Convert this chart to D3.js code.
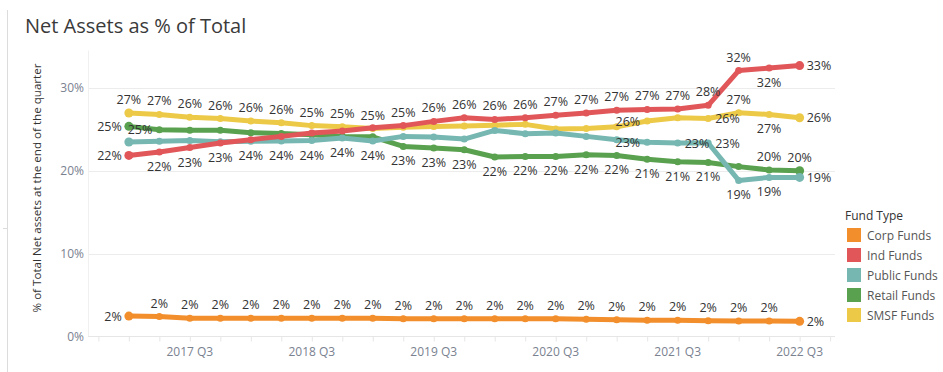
<!DOCTYPE html>
<html>
<head>
<meta charset="utf-8">
<script src="https://cdn.jsdelivr.net/npm/d3@7"></script>
<style>
  body { margin: 0; background: #fff; }
  text { font-family: "Open Sans", sans-serif; }
</style>
</head>
<body>
<div id="chart"></div>
<script>
// quarters on the x axis
var quarters = ["2017 Q1", "2017 Q2", "2017 Q3", "2017 Q4", "2018 Q1", "2018 Q2", "2018 Q3", "2018 Q4",
                "2019 Q1", "2019 Q2", "2019 Q3", "2019 Q4", "2020 Q1", "2020 Q2", "2020 Q3", "2020 Q4",
                "2021 Q1", "2021 Q2", "2021 Q3", "2021 Q4", "2022 Q1", "2022 Q2", "2022 Q3"];
var xTickLabels = ["2017 Q3", "2018 Q3", "2019 Q3", "2020 Q3", "2021 Q3", "2022 Q3"];
var yTicks = [0, 10, 20, 30];

var fundTypes = ["Corp Funds", "Ind Funds", "Public Funds", "Retail Funds", "SMSF Funds"];

// % of total net assets
var corp = [2.45, 2.4, 2.19, 2.19, 2.19, 2.19, 2.19, 2.19, 2.19, 2.14, 2.14, 2.14, 2.14, 2.14, 2.14, 2.06,
            2.02, 1.94, 1.94, 1.9, 1.86, 1.86, 1.82];
var ind = [21.85, 22.26, 22.8, 23.35, 23.75, 24.15, 24.56, 24.8, 25.2, 25.45, 25.96, 26.4, 26.2, 26.4, 26.7, 26.98,
           27.3, 27.4, 27.45, 27.9, 32.1, 32.4, 32.7];
var pub = [23.47, 23.55, 23.66, 23.5, 23.55, 23.6, 23.65, 23.95, 23.6, 24.15, 24.07, 23.83, 24.87, 24.47, 24.56, 24.15,
           23.75, 23.43, 23.35, 23.35, 18.83, 19.2, 19.2];
var retail = [25.36, 24.96, 24.9, 24.9, 24.6, 24.5, 24.35, 24.15, 24.1, 22.94, 22.75, 22.54, 21.66, 21.73, 21.73, 21.93,
              21.85, 21.4, 21.1, 21.0, 20.5, 20.1, 20.0];
var smsf = [26.98, 26.8, 26.45, 26.3, 26.0, 25.8, 25.45, 25.3, 25.1, 25.25, 25.35, 25.4, 25.5, 25.6, 25.05, 25.1,
            25.3, 26.0, 26.4, 26.3, 27.0, 26.8, 26.4];

// label placement per point: a above, b below, l left, r right, - none
var corpLabels   = "laaaaaaaaaaaaaaaaaaaaar";
var indLabels    = "lbbb-----aaaaaaaaaaaabr";
var pubLabels    = "----bbbbb--------lrrbbr";
var retailLabels = "ll-------bbbbbbbbbbb-aa";
var smsfLabels   = "aaaaaaaaa--------l-rabr";

var colors = ["#f28e2b", "#e15759", "#76b7b2", "#59a14f", "#edc948"];

var series = [
  {name: fundTypes[0], values: corp, labels: corpLabels, color: colors[0]},
  {name: fundTypes[1], values: ind, labels: indLabels, color: colors[1]},
  {name: fundTypes[2], values: pub, labels: pubLabels, color: colors[2]},
  {name: fundTypes[3], values: retail, labels: retailLabels, color: colors[3]},
  {name: fundTypes[4], values: smsf, labels: smsfLabels, color: colors[4]}
];
// drawing order (bottom to top)
var drawOrder = [4, 3, 2, 1, 0];

var width = 943;
var height = 372;

var svg = d3.select("#chart")
            .append("svg")
            .attr("width", width)
            .attr("height", height);

var x = d3.scaleLinear()
          .domain([-1.34, 23.16])
          .range([88, 835]);
var y = d3.scaleLinear()
          .domain([0, 34.58])
          .range([336.4, 50]);

// outer border line on the left
svg.append("line")
   .attr("x1", 7.5).attr("x2", 7.5)
   .attr("y1", 10).attr("y2", height)
   .attr("stroke", "#dcdcdc");
svg.append("line")
   .attr("x1", 3).attr("x2", 7)
   .attr("y1", 228.5).attr("y2", 228.5)
   .attr("stroke", "#dcdcdc");

// title
svg.append("text")
   .attr("x", 25)
   .attr("y", 33)
   .attr("font-size", 20)
   .attr("fill", "#3a3a3a")
   .text("Net Assets as % of Total");

// gridlines
svg.append("g")
   .selectAll("line")
   .data(yTicks.filter(function(d) { return d > 0; }))
   .enter()
   .append("line")
   .attr("x1", 88).attr("x2", 835)
   .attr("y1", function(d) { return Math.round(y(d)) + 0.5; })
   .attr("y2", function(d) { return Math.round(y(d)) + 0.5; })
   .attr("stroke", "#ececec");

// y axis
var yAxis = svg.append("g")
               .attr("transform", "translate(88,0)")
               .call(d3.axisLeft(y).tickValues(yTicks).tickSize(0).tickPadding(4)
                       .tickFormat(function(d) { return d + "%"; }));
yAxis.select(".domain").attr("stroke", "#f0f0f0");
yAxis.selectAll("text")
     .attr("font-family", "Open Sans, sans-serif")
     .attr("font-size", 12)
     .attr("fill", "#7a8290");

// y axis title
svg.append("text")
   .attr("transform", "translate(41," + 188 + ") rotate(-90)")
   .attr("text-anchor", "middle")
   .attr("font-size", 11.6)
   .attr("fill", "#333")
   .text("% of Total Net assets at the end of the quarter");

// x axis
var tickIdx = d3.range(-1, quarters.length + 1);
var xAxis = svg.append("g")
               .attr("transform", "translate(0,336.5)")
               .call(d3.axisBottom(x).tickValues(tickIdx).tickSize(5).tickFormat(""));
xAxis.select(".domain").attr("d", "M88,0H835").attr("stroke", "#e6e6e6");
xAxis.selectAll(".tick line").attr("stroke", "#e6e6e6");

svg.append("g")
   .selectAll("text")
   .data(xTickLabels)
   .enter()
   .append("text")
   .attr("x", function(d) { return x(quarters.indexOf(d)); })
   .attr("y", 356)
   .attr("text-anchor", "middle")
   .attr("font-size", 12)
   .attr("fill", "#7a8290")
   .text(function(d) { return d; });

// lines
var line = d3.line()
             .x(function(d, i) { return x(i); })
             .y(function(d) { return y(d); });

drawOrder.forEach(function(k) {
  var s = series[k];
  var g = svg.append("g");
  g.append("path")
   .attr("d", line(s.values))
   .attr("fill", "none")
   .attr("stroke", s.color)
   .attr("stroke-width", 5)
   .attr("stroke-linejoin", "round")
   .attr("stroke-linecap", "round");
  g.selectAll("circle")
   .data(s.values)
   .enter()
   .append("circle")
   .attr("cx", function(d, i) { return x(i); })
   .attr("cy", function(d) { return y(d); })
   .attr("r", function(d, i) { return (i === 0 || i === s.values.length - 1) ? 4.5 : 3.5; })
   .attr("fill", s.color);
});

// point labels
series.forEach(function(s) {
  s.values.forEach(function(v, i) {
    var pos = s.labels.charAt(i);
    if (pos === "-") return;
    var px = x(i), py = y(v);
    var t = svg.append("text")
               .attr("font-size", 12.5)
               .attr("fill", "#333")
               .text(Math.round(v) + "%");
    if (pos === "a") {
      t.attr("x", px).attr("y", py - 9).attr("text-anchor", "middle");
    } else if (pos === "b") {
      t.attr("x", px).attr("y", py + 19).attr("text-anchor", "middle");
    } else if (pos === "l") {
      t.attr("x", px - 7).attr("y", py + 4.5).attr("text-anchor", "end");
    } else if (pos === "r") {
      t.attr("x", px + 7).attr("y", py + 4.5).attr("text-anchor", "start");
    }
  });
});

// legend
var legend = svg.append("g").attr("transform", "translate(845,0)");
legend.append("text")
      .attr("x", 0)
      .attr("y", 220)
      .attr("font-size", 12)
      .attr("fill", "#333")
      .text("Fund Type");
var items = legend.selectAll("g.item")
                  .data(series)
                  .enter()
                  .append("g")
                  .attr("class", "item")
                  .attr("transform", function(d, i) { return "translate(2," + (228 + i * 20) + ")"; });
items.append("rect")
     .attr("width", 14)
     .attr("height", 14)
     .attr("fill", function(d) { return d.color; });
items.append("text")
     .attr("x", 20)
     .attr("y", 11.5)
     .attr("font-size", 12)
     .attr("fill", "#555")
     .text(function(d) { return d.name; });
</script>
</body>
</html>
